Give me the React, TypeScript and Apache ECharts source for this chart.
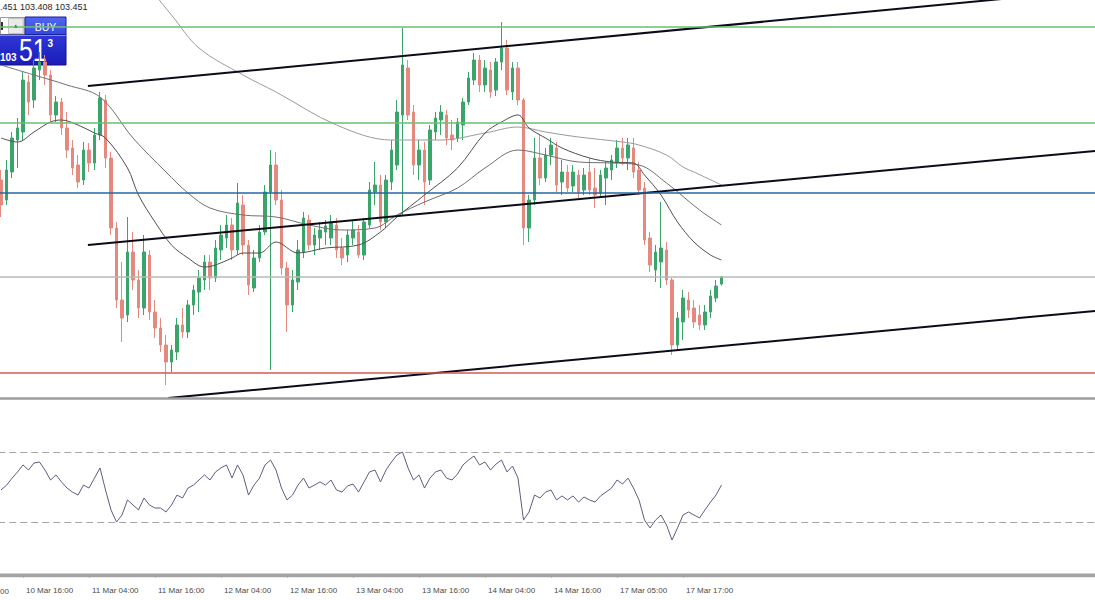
import React, { useEffect, useRef } from "react";
import * as echarts from "echarts";

// ---------- data ----------
const tickLabels = [
  "10 Mar 04:00", "10 Mar 16:00", "11 Mar 04:00", "11 Mar 16:00",
  "12 Mar 04:00", "12 Mar 16:00", "13 Mar 04:00", "13 Mar 16:00",
  "14 Mar 04:00", "14 Mar 16:00", "17 Mar 05:00", "17 Mar 17:00",
];
const BARS_PER_TICK = 12;
const LEAD = 8; // hourly slots before the first visible candle
const SLOTS = 208; // total hourly slots across the window (incl. right shift)

// [open, close, low, high]
const ohlc: number[][] = [
  [103.935, 103.81, 103.75, 103.985], [103.835, 103.985, 103.81, 104.035], [103.975, 104.145, 103.945, 104.175], [104.135, 104.195, 103.995, 104.245],
  [104.175, 104.435, 104.135, 104.475], [104.425, 104.325, 104.26, 104.46], [104.335, 104.495, 104.295, 104.535], [104.485, 104.525, 104.435, 104.575],
  [104.525, 104.46, 104.41, 104.56], [104.46, 104.26, 104.225, 104.485], [104.26, 104.325, 104.225, 104.355], [104.325, 104.195, 104.16, 104.345],
  [104.195, 104.085, 104.045, 104.275], [104.095, 103.995, 103.96, 104.135], [104.01, 103.925, 103.895, 104.06], [103.935, 104.085, 103.91, 104.125],
  [104.085, 104.02, 103.975, 104.12], [104.02, 104.16, 103.985, 104.195], [104.16, 104.345, 104.135, 104.375], [104.335, 104.045, 103.995, 104.36],
  [104.045, 103.695, 103.66, 104.075], [103.695, 103.335, 103.295, 103.725], [103.335, 103.245, 103.125, 103.525], [103.26, 103.575, 103.225, 103.75],
  [103.575, 103.435, 103.385, 103.675], [103.435, 103.295, 103.245, 103.485], [103.295, 103.575, 103.26, 103.66], [103.56, 103.275, 103.235, 103.585],
  [103.275, 103.195, 103.145, 103.335], [103.195, 103.11, 103.075, 103.245], [103.11, 103.025, 102.91, 103.16], [103.025, 103.085, 102.975, 103.11],
  [103.075, 103.21, 103.035, 103.245], [103.21, 103.175, 103.145, 103.295], [103.175, 103.31, 103.145, 103.335], [103.31, 103.385, 103.26, 103.41],
  [103.375, 103.445, 103.275, 103.485], [103.435, 103.525, 103.385, 103.56], [103.525, 103.445, 103.385, 103.56], [103.445, 103.595, 103.425, 103.635],
  [103.585, 103.66, 103.535, 103.71], [103.645, 103.71, 103.595, 103.76], [103.71, 103.585, 103.535, 103.745], [103.585, 103.82, 103.56, 103.92],
  [103.81, 103.61, 103.56, 103.86], [103.61, 103.41, 103.36, 103.635], [103.395, 103.545, 103.375, 103.585], [103.545, 103.675, 103.525, 103.71],
  [103.675, 103.875, 103.66, 103.91], [103.875, 104.01, 102.985, 104.085], [104.01, 103.835, 103.81, 104.075], [103.835, 103.495, 103.46, 103.885],
  [103.495, 103.31, 103.175, 103.525], [103.31, 103.435, 103.275, 103.485], [103.425, 103.585, 103.385, 103.635], [103.575, 103.745, 103.545, 103.775],
  [103.735, 103.61, 103.585, 103.76], [103.61, 103.66, 103.56, 103.695], [103.645, 103.685, 103.585, 103.725], [103.675, 103.705, 103.61, 103.735],
  [103.645, 103.725, 103.61, 103.76], [103.71, 103.585, 103.545, 103.745], [103.595, 103.545, 103.51, 103.645], [103.56, 103.66, 103.525, 103.685],
  [103.645, 103.685, 103.61, 103.735], [103.675, 103.56, 103.545, 103.71], [103.56, 103.725, 103.535, 103.745], [103.71, 103.885, 103.695, 103.925],
  [103.875, 103.91, 103.81, 104.025], [103.91, 103.725, 103.685, 103.96], [103.725, 103.935, 103.695, 103.96], [103.925, 104.085, 103.885, 104.135],
  [104.01, 104.275, 103.985, 104.335], [104.26, 104.51, 103.76, 104.695], [104.495, 104.26, 104.235, 104.535], [104.275, 104.01, 103.96, 104.31],
  [104.01, 104.085, 103.935, 104.135], [104.085, 103.925, 103.81, 104.125], [103.935, 104.185, 103.91, 104.21], [104.175, 104.245, 104.135, 104.275],
  [104.235, 104.275, 104.16, 104.31], [104.26, 104.145, 104.11, 104.285], [104.16, 104.135, 104.085, 104.235], [104.145, 104.225, 104.125, 104.245],
  [104.21, 104.325, 104.135, 104.345], [104.325, 104.445, 104.31, 104.475], [104.435, 104.535, 104.41, 104.57], [104.535, 104.41, 104.375, 104.56],
  [104.41, 104.495, 104.375, 104.535], [104.485, 104.375, 104.345, 104.525], [104.385, 104.525, 104.355, 104.545], [104.525, 104.595, 104.485, 104.725],
  [104.595, 104.385, 104.36, 104.635], [104.375, 104.495, 104.335, 104.525], [104.495, 104.335, 104.31, 104.525], [104.335, 103.695, 103.61, 104.345],
  [103.695, 103.835, 103.625, 103.86], [103.835, 104.045, 103.81, 104.145], [104.045, 103.945, 103.91, 104.16], [103.945, 104.06, 103.925, 104.095],
  [104.06, 104.11, 104.01, 104.145], [104.095, 103.91, 103.875, 104.125], [103.925, 103.975, 103.86, 104.035], [103.975, 103.895, 103.875, 104.01],
  [103.905, 103.975, 103.875, 104.01], [103.96, 103.875, 103.845, 103.985], [103.885, 103.96, 103.86, 103.995], [103.975, 103.885, 103.86, 104.045],
  [103.895, 103.86, 103.795, 103.995], [103.87, 103.96, 103.845, 103.985], [103.945, 103.995, 103.81, 104.025], [103.985, 104.035, 103.935, 104.06],
  [104.025, 104.095, 103.995, 104.135], [104.095, 104.045, 104.01, 104.145], [104.045, 104.11, 103.985, 104.145], [104.095, 103.975, 103.945, 104.145],
  [103.985, 103.885, 103.86, 104.025], [103.895, 103.635, 103.61, 103.925], [103.645, 103.51, 103.475, 103.675], [103.485, 103.575, 103.425, 103.61],
  [103.525, 103.595, 103.395, 103.825], [103.585, 103.435, 103.41, 103.625], [103.435, 103.11, 103.06, 103.445], [103.11, 103.245, 103.085, 103.275],
  [103.225, 103.345, 103.135, 103.385], [103.335, 103.285, 103.245, 103.375], [103.295, 103.225, 103.195, 103.335], [103.26, 103.21, 103.185, 103.31],
  [103.21, 103.275, 103.185, 103.31], [103.275, 103.355, 103.245, 103.385], [103.345, 103.405, 103.325, 103.435], [103.415, 103.451, 103.408, 103.451],
];

const rsi: number[] = [
  48.3, 51, 55, 58.6, 62.6, 59.7, 63.7, 64.3, 59.7, 54, 56.9, 52.9, 49.4, 47.1, 45.4, 51.1,
  49.4, 55.1, 60.9, 48.3, 36.9, 30, 34, 42.6, 39.7, 36.9, 43.7, 39.7, 38, 38, 35.7, 39.7,
  45.4, 43.7, 49.4, 51.1, 54, 56.9, 54, 58.6, 60.9, 62.6, 55.1, 62.6, 56.9, 45.4, 51.1, 55.1,
  62.6, 65.4, 59.7, 49.4, 42.6, 45.4, 51.1, 55.1, 49.4, 51.1, 52.9, 51.1, 54, 48.3, 47.1, 50.6,
  51.7, 47.1, 52.9, 58.6, 59.7, 52.9, 59.7, 64.3, 68.3, 70, 60.9, 54, 56.9, 49.4, 55.1, 58.6,
  59.7, 55.1, 54, 57.4, 62.6, 65.4, 67.7, 62.6, 64.3, 59.7, 63.1, 65.4, 58.6, 62, 55.1, 31.1,
  35.7, 45.4, 43.7, 47.1, 48.3, 42.6, 44.9, 42.6, 44.9, 41.4, 44.3, 42.6, 41.4, 44.9, 47.1, 49.4,
  54, 51.7, 55.1, 49.4, 42.6, 31.1, 26.6, 31.1, 34, 28.3, 19.7, 26.6, 34, 35.7, 34, 32.3,
  36.9, 41.4, 45.4, 51.1,
];

// moving averages: [bar index, price]
const maSlow: number[][] = [
  [27, 104.895], [31, 104.76], [36, 104.595], [44, 104.46], [50, 104.375], [61, 104.21], [71, 104.135], [80, 104.135],
  [88, 104.17], [94, 104.2], [99, 104.175], [105, 104.15], [113, 104.125], [116, 104.11], [121, 104.06], [124, 104.0],
  [126, 103.975], [131, 103.91],
];
const maMid: number[][] = [
  [0, 104.51], [6, 104.46], [12, 104.41], [18, 104.35], [24, 104.145], [30, 103.975], [34, 103.87], [38, 103.795],
  [44, 103.76], [50, 103.75], [56, 103.71], [62, 103.685], [68, 103.695], [72, 103.76], [77, 103.825], [83, 103.895],
  [88, 103.995], [94, 104.085], [99, 104.06], [105, 104.025], [111, 104.02], [116, 104.01], [121, 103.92], [127, 103.785],
  [131, 103.71],
];
const maFast: number[][] = [
  [0, 104.145], [3, 104.125], [6, 104.175], [9, 104.225], [11, 104.235], [14, 104.21], [17, 104.17], [19, 104.145],
  [23, 103.995], [25, 103.86], [28, 103.725], [31, 103.61], [34, 103.545], [37, 103.5], [39, 103.51], [42, 103.545],
  [44, 103.57], [47, 103.57], [50, 103.625], [54, 103.57], [59, 103.595], [65, 103.61], [69, 103.675], [72, 103.75],
  [77, 103.86], [83, 103.995], [88, 104.17], [91, 104.225], [94, 104.26], [96, 104.195], [99, 104.145], [102, 104.095],
  [107, 104.045], [111, 104.025], [115, 104.02], [117, 103.96], [120, 103.86], [123, 103.725], [126, 103.625], [129, 103.56],
  [131, 103.535],
];

// channel trend lines: two anchors each [bar index, price]
const trendUpper: number[][] = [[15.8, 104.405], [199.5, 104.886]];
const trendMiddle: number[][] = [[15.8, 103.61], [199.5, 104.082]];
const trendLower: number[][] = [[30.4, 102.845], [199.5, 103.282]];

const resistanceLevels = [104.7, 104.22];
const pivotLevel = 103.87;
const bidPrice = 103.451;
const supportLevel = 102.97;
const rsiLevels = [70, 30];

const priceMin = 102.85;
const priceMax = 104.835;

const headerText = ".451 103.408 103.451";
const clippedFirstTick = "00";

// ---------- chart ----------
const categories: string[] = Array.from({ length: SLOTS }, (_, c) =>
  c % BARS_PER_TICK === 0 && tickLabels[c / BARS_PER_TICK] ? tickLabels[c / BARS_PER_TICK] : "s" + c
);
const isTick = (i: number) => i % BARS_PER_TICK === 0 && i / BARS_PER_TICK < tickLabels.length;
const isLabel = (i: number) => isTick(i) && i > 0;

const UP = "#3aa56a";
const DOWN = "#e5897f";
const GRID_LEFT = -45.75;
const GRID_RIGHT = -3.25;

export default function App() {
  const ref = useRef<HTMLDivElement>(null);
  useEffect(() => {
    document.body.style.margin = "0";
    const chart = echarts.init(ref.current!, undefined, { renderer: "svg" });
    const empty = Array.from({ length: LEAD }, () => ["-", "-", "-", "-"]);
    const option: any = {
      animation: false,
      backgroundColor: "#ffffff",
      grid: [
        { left: GRID_LEFT, right: GRID_RIGHT, top: 0, height: 397, outerBoundsMode: "none", containLabel: false },
        { left: GRID_LEFT, right: GRID_RIGHT, top: 399.5, height: 175, outerBoundsMode: "none", containLabel: false },
      ],
      xAxis: [
        { type: "category", gridIndex: 0, data: categories, show: false, boundaryGap: true },
        { type: "value", gridIndex: 0, min: -LEAD - 0.5, max: SLOTS - LEAD - 0.5, show: false },
        {
          type: "category", gridIndex: 1, data: categories, boundaryGap: true, offset: 8,
          axisLine: { show: true, lineStyle: { color: "#a9a9a9", width: 1 } },
          axisTick: { show: true, alignWithLabel: true, interval: (i: number) => isTick(i), length: 3, lineStyle: { color: "#8a8a8a" } },
          axisLabel: {
            interval: (i: number) => isLabel(i), formatter: (v: string) => v, align: "left",
            padding: [0, 0, 0, 3], fontSize: 8, fontFamily: "Liberation Sans", color: "#4a4a4a", margin: 4,
          },
          splitLine: { show: false },
        },
        { type: "value", gridIndex: 1, min: -LEAD - 0.5, max: SLOTS - LEAD - 0.5, show: false },
      ],
      yAxis: [
        { type: "value", gridIndex: 0, min: priceMin, max: priceMax, show: false, splitLine: { show: false } },
        { type: "value", gridIndex: 1, min: 0, max: 100, show: false, splitLine: { show: false } },
      ],
      series: [
        {
          type: "candlestick", xAxisIndex: 0, yAxisIndex: 0, barWidth: 3,
          data: [...empty, ...ohlc],
          itemStyle: { color: UP, color0: DOWN, borderColor: UP, borderColor0: DOWN, borderWidth: 1 },
          markLine: {
            silent: true, symbol: ["none", "none"], label: { show: false }, animation: false,
            data: [
              ...resistanceLevels.map((v) => ({ yAxis: v, lineStyle: { color: "#6cbf6c", width: 1.5, type: "solid" } })),
              { yAxis: pivotLevel, lineStyle: { color: "#23679f", width: 1.5, type: "solid" } },
              { yAxis: bidPrice, lineStyle: { color: "#b9b9b9", width: 1.5, type: "solid" } },
              { yAxis: supportLevel, lineStyle: { color: "#d7574d", width: 1.5, type: "solid" } },
            ],
          },
          z: 2,
        },
        ...[
          { d: maSlow, c: "#9a9a9a" },
          { d: maMid, c: "#707070" },
          { d: maFast, c: "#4f4f4f" },
        ].map((m) => ({
          type: "line", xAxisIndex: 1, yAxisIndex: 0, data: m.d, smooth: 0.35, showSymbol: false,
          lineStyle: { width: 1, color: m.c }, z: 3, silent: true,
        })),
        ...[trendUpper, trendMiddle, trendLower].map((d) => ({
          type: "line", xAxisIndex: 1, yAxisIndex: 0, data: d, showSymbol: false,
          lineStyle: { width: 2, color: "#0b0b18" }, z: 4, silent: true,
        })),
        {
          type: "line", xAxisIndex: 3, yAxisIndex: 1, data: rsi.map((v, i) => [i, v]), showSymbol: false,
          lineStyle: { width: 1, color: "#5d5d82" }, z: 3, silent: true,
          markLine: {
            silent: true, symbol: ["none", "none"], label: { show: false }, animation: false,
            data: rsiLevels.map((v) => ({ yAxis: v, lineStyle: { color: "#a6a6a6", width: 1, type: [7, 4] } })),
          },
        },
      ],
      graphic: [
        { type: "line", shape: { x1: 0, y1: 398.5, x2: 1095, y2: 398.5 }, style: { stroke: "#9d9d9d", lineWidth: 2.5 }, z: 10 },
        { type: "rect", shape: { x: 0, y: 573.5, width: 1095, height: 3.8 }, style: { fill: "#a3a3a3" }, z: 10 },
        {
          type: "text", x: 0, y: 587, z: 20,
          style: { text: clippedFirstTick, fontSize: 8, fontFamily: "Liberation Sans", fill: "#4a4a4a" },
        },
        {
          type: "text", x: 0, y: 2, z: 20,
          style: { text: headerText, fontSize: 9, fontFamily: "Liberation Sans", fill: "#262626" },
        },
        {
          type: "group", z: 30,
          children: [
            { type: "rect", shape: { x: 0.5, y: 17.5, width: 23.5, height: 17 }, style: { fill: "#ffffff", stroke: "#9a9a9a", lineWidth: 1 } },
            { type: "rect", shape: { x: 1, y: 22, width: 2, height: 8 }, style: { fill: "#333" } },
            { type: "rect", shape: { x: 8.5, y: 18.5, width: 14.5, height: 15 }, style: { fill: "#e9e9e9", stroke: "#c3c3c3", lineWidth: 1 } },
            { type: "text", x: 15.8, y: 26, style: { text: "▲", fontSize: 6, fill: "#222", align: "center", verticalAlign: "middle" } },
            {
              type: "rect", shape: { x: 25, y: 17, width: 41, height: 18 },
              style: {
                fill: new echarts.graphic.LinearGradient(0, 0, 0, 1, [{ offset: 0, color: "#5366f0" }, { offset: 1, color: "#3546dc" }]),
                stroke: "#1d1d9a", lineWidth: 1,
              },
            },
            { type: "text", x: 45.5, y: 26.5, style: { text: "BUY", fontSize: 10.5, fontFamily: "Liberation Sans", fill: "#ffffff", align: "center", verticalAlign: "middle" } },
            {
              type: "rect", shape: { x: -1, y: 35, width: 67, height: 30 },
              style: {
                fill: new echarts.graphic.LinearGradient(0, 0, 0, 1, [{ offset: 0, color: "#2f37d6" }, { offset: 1, color: "#1a1cb8" }]),
                stroke: "#12127e", lineWidth: 1,
              },
            },
            { type: "line", shape: { x1: 0, y1: 35.5, x2: 66, y2: 35.5 }, style: { stroke: "#7d8af0", lineWidth: 1 } },
            { type: "text", x: 0, y: 57.5, style: { text: "103", fontSize: 10, fontWeight: "bold", fontFamily: "Liberation Sans", fill: "#ffffff", verticalAlign: "middle" } },
            { type: "text", x: 19, y: 50.5, scaleX: 0.8, style: { text: "51", fontSize: 31, fontFamily: "Liberation Sans", fill: "#ffffff", verticalAlign: "middle" } },
            { type: "text", x: 47.5, y: 43.5, style: { text: "3", fontSize: 10, fontWeight: "bold", fontFamily: "Liberation Sans", fill: "#ffffff", verticalAlign: "middle" } },
          ],
        },
      ],
    };
    chart.setOption(option);
    return () => chart.dispose();
  }, []);
  return <div ref={ref} style={{ width: 1095, height: 600, background: "#fff" }} />;
}
